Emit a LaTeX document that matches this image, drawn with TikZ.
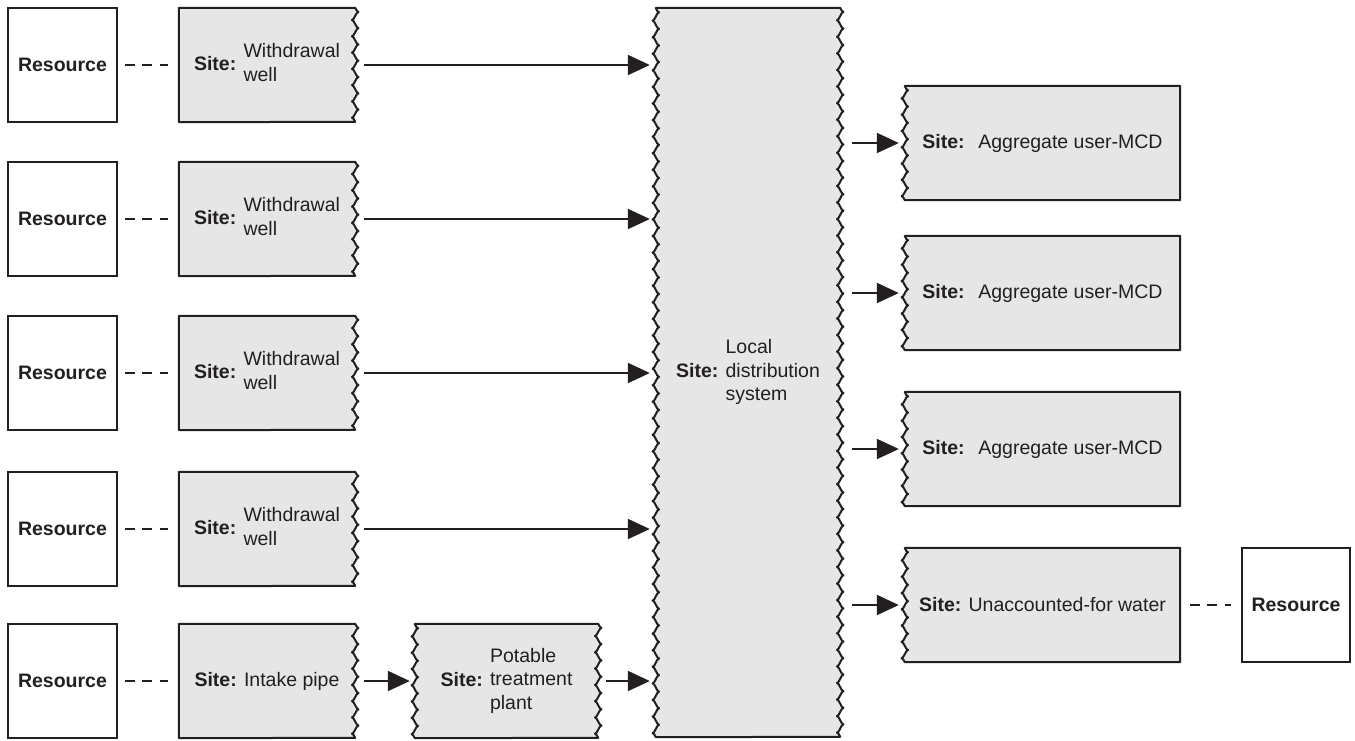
\documentclass[tikz,border=0pt]{standalone}
\usepackage{fontspec}
\setmainfont{Liberation Sans}
\usetikzlibrary{arrows.meta}
\pgfdeclarelayer{bg}
\pgfsetlayers{bg,main}
\definecolor{ink}{HTML}{231F20}
\definecolor{boxfill}{HTML}{E6E6E6}
\begin{document}
\begin{tikzpicture}[x=1pt,y=-1pt, font=\fontsize{19.5}{23.5}\selectfont, text=ink,
  holder/.style={inner sep=0pt, minimum height=114pt},
  res/.style={holder, draw=ink, line width=2pt, fill=white, minimum width=109pt, font=\fontsize{19.5}{23.5}\selectfont\bfseries},
  shp/.style={draw=ink, line width=2pt, fill=boxfill, line join=round},
  arr/.style={draw=ink, line width=2pt, -{Triangle[length=22pt,width=20pt]}},
  dsh/.style={draw=ink, line width=2.2pt, dash pattern=on 9.5pt off 7.75pt},
]
\useasboundingbox (0,0) rectangle (1355,740);

% left resources
\node[res] (r1) at (62.5,65) {Resource};
\node[res] (r2) at (62.5,219) {Resource};
\node[res] (r3) at (62.5,373) {Resource};
\node[res] (r4) at (62.5,529) {Resource};
\node[res] (r5) at (62.5,681) {Resource};

% withdrawal wells and intake
\node[holder, minimum width=176pt] (w1) at (267,65) {\textbf{Site:} \begin{tabular}{@{}l@{}}Withdrawal\\well\end{tabular}};
\node[holder, minimum width=176pt] (w2) at (267,219) {\textbf{Site:} \begin{tabular}{@{}l@{}}Withdrawal\\well\end{tabular}};
\node[holder, minimum width=176pt] (w3) at (267,373) {\textbf{Site:} \begin{tabular}{@{}l@{}}Withdrawal\\well\end{tabular}};
\node[holder, minimum width=176pt] (w4) at (267,529) {\textbf{Site:} \begin{tabular}{@{}l@{}}Withdrawal\\well\end{tabular}};
\node[holder, minimum width=176pt] (ip) at (267,681) {\textbf{Site:} Intake pipe};

% potable treatment plant
\node[holder, minimum width=183pt] (pt) at (506.5,681) {\textbf{Site:} \begin{tabular}{@{}l@{}}Potable\\treatment\\plant\end{tabular}};

% local distribution system
\node[holder, minimum width=184pt, minimum height=729pt] (lds) at (748,372.5) {\textbf{Site:} \begin{tabular}{@{}l@{}}Local\\distribution\\system\end{tabular}};

% right boxes
\node[holder, minimum width=275pt] (a1) at (1042.5,143) {\textbf{Site:}\hspace{0.7em}Aggregate user-MCD};
\node[holder, minimum width=275pt] (a2) at (1042.5,293) {\textbf{Site:}\hspace{0.7em}Aggregate user-MCD};
\node[holder, minimum width=275pt] (a3) at (1042.5,449) {\textbf{Site:}\hspace{0.7em}Aggregate user-MCD};
\node[holder, minimum width=275pt] (uw) at (1042.5,605) {\textbf{Site:} Unaccounted-for water};
\node[res, minimum width=108pt] (r6) at (1296,605) {Resource};

% shapes (wavy sides drawn with sine/cosine quarter waves)
\begin{pgfonlayer}{bg}
  \foreach \n in {w1,w2,w3,w4,ip}
    \path[shp] (\n.south west) -- (\n.north west) -- (\n.north east)
      \foreach \i in {1,...,7}{ sin ++(3.2,4.0714) cos ++(-3.2,4.0714) sin ++(-3.2,4.0714) cos ++(3.2,4.0714) } -- cycle;
  \foreach \n in {a1,a2,a3,uw}
    \path[shp] (\n.north west) -- (\n.north east) -- (\n.south east) -- (\n.south west)
      \foreach \i in {1,...,7}{ sin ++(-3.2,-4.0714) cos ++(3.2,-4.0714) sin ++(3.2,-4.0714) cos ++(-3.2,-4.0714) } -- cycle;
  \path[shp] (pt.north west) -- (pt.north east)
      \foreach \i in {1,...,7}{ sin ++(3.2,4.0714) cos ++(-3.2,4.0714) sin ++(-3.2,4.0714) cos ++(3.2,4.0714) }
      -- (pt.south west)
      \foreach \i in {1,...,7}{ sin ++(-3.2,-4.0714) cos ++(3.2,-4.0714) sin ++(3.2,-4.0714) cos ++(-3.2,-4.0714) } -- cycle;
  \path[shp] (lds.north west) -- (lds.north east)
      \foreach \i in {1,...,44}{ sin ++(3.2,4.142) cos ++(-3.2,4.142) sin ++(-3.2,4.142) cos ++(3.2,4.142) }
      -- (lds.south west)
      \foreach \i in {1,...,44}{ sin ++(-3.2,-4.142) cos ++(3.2,-4.142) sin ++(3.2,-4.142) cos ++(-3.2,-4.142) } -- cycle;
\end{pgfonlayer}

% dashed links
\foreach \a/\b in {r1/w1,r2/w2,r3/w3,r4/w4,r5/ip}
  \draw[dsh, shorten <=7pt, shorten >=11pt] (\a.east) -- (\b.west);
\draw[dsh, shorten <=10pt, shorten >=10pt] (uw.east) -- (r6.west);

% arrows
\foreach \n in {w1,w2,w3,w4}
  \draw[arr, shorten <=9pt, shorten >=6pt] (\n.east) -- (\n.east -| lds.west);
\draw[arr, shorten <=9pt, shorten >=5pt] (ip.east) -- (pt.west);
\draw[arr, shorten <=8pt, shorten >=6pt] (pt.east) -- (pt.east -| lds.west);
\foreach \n in {a1,a2,a3,uw}
  \draw[arr, shorten <=12pt, shorten >=6pt] (lds.east |- \n.west) -- (\n.west);
\end{tikzpicture}
\end{document}
